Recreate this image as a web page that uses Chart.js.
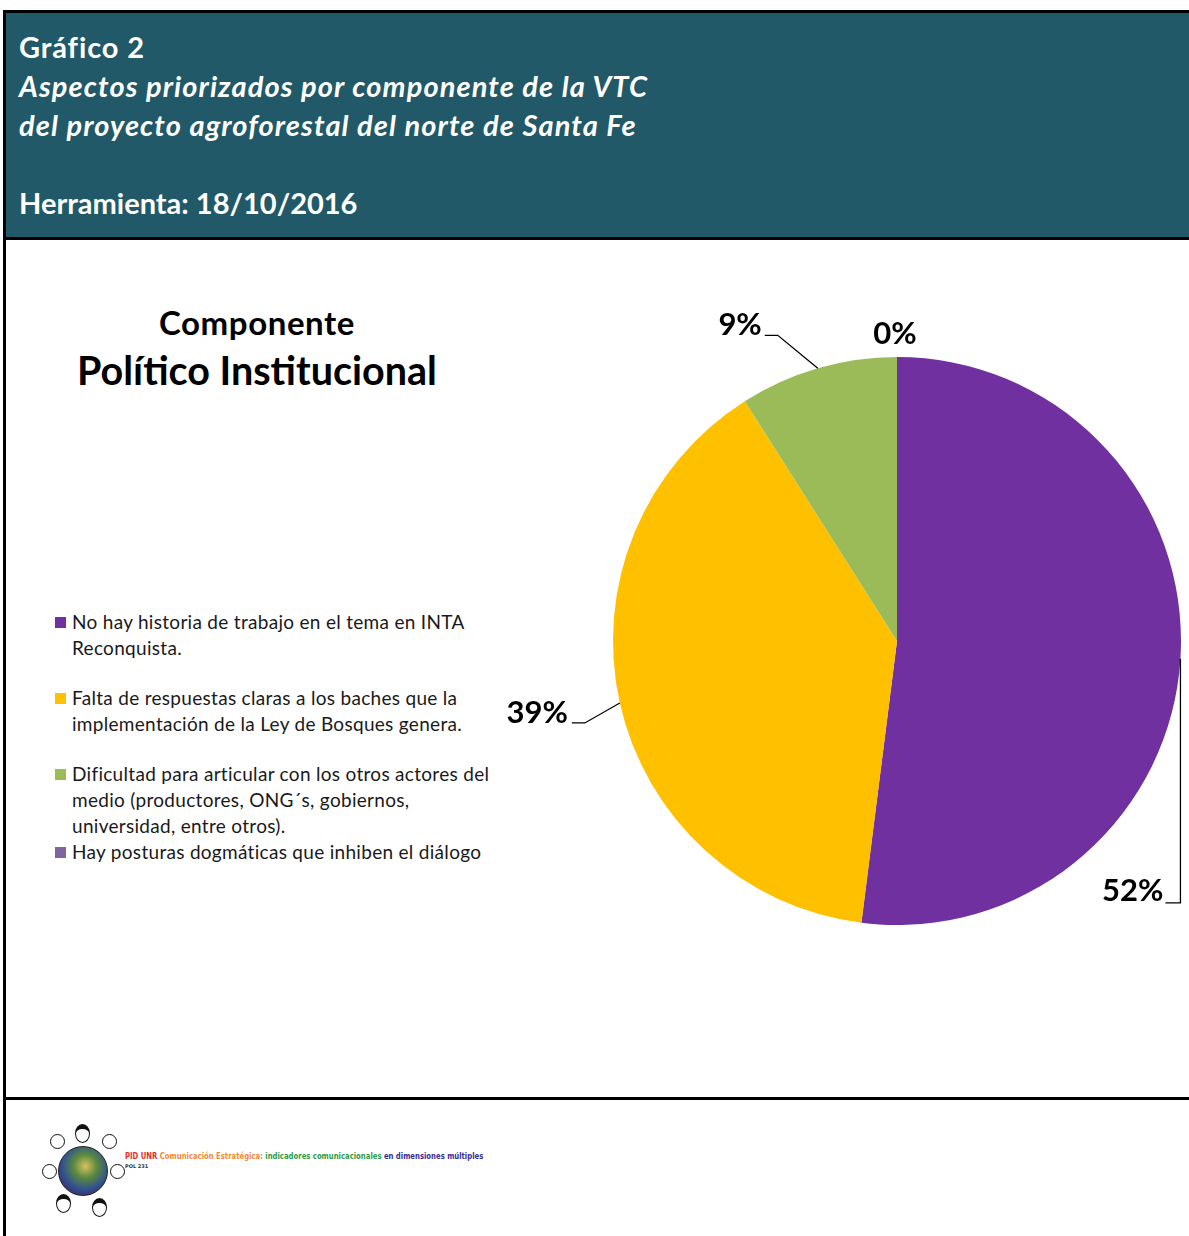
<!DOCTYPE html>
<html>
<head>
<meta charset="utf-8">
<script src="https://cdn.jsdelivr.net/npm/chart.js@4.4.0/dist/chart.umd.min.js"></script>
<style>
  body { margin: 0; background: #fff; width: 1189px; height: 1236px; overflow: hidden; position: relative; font-family: Lato, "Open Sans", sans-serif; }
  #header { position: absolute; left: 3px; top: 10px; width: 1195px; height: 230px; box-sizing: border-box; background: #225968; border: 3px solid #000; }
  .hl { position: absolute; left: 13px; color: #fff; font-weight: bold; font-size: 29px; letter-spacing: 0.9px; line-height: 32px; white-space: nowrap; }
  .it { font-style: italic; letter-spacing: 1.1px; }
  #leftLine { position: absolute; left: 3px; top: 240px; width: 3px; height: 996px; background: #000; }
  #footLine { position: absolute; left: 3px; top: 1097px; width: 1186px; height: 3px; background: #000; }
  #title1 { position: absolute; left: 57px; width: 400px; top: 302px; text-align: center; font-weight: bold; font-size: 33px; letter-spacing: 0.6px; color: #000; }
  #title2 { position: absolute; left: 37px; width: 440px; top: 346px; text-align: center; font-weight: bold; font-size: 39.5px; color: #000; }
  #legend { position: absolute; left: 55px; top: 609px; width: 445px; font-size: 19px; letter-spacing: 0.3px; color: #1a1a1a; }
  .li { position: relative; padding-left: 17px; line-height: 26px; }
  .sw { position: absolute; left: 0; top: 8px; width: 11px; height: 11px; }
  #chartBox { position: absolute; left: 500px; top: 260px; }
  #logo { position: absolute; left: 40px; top: 1120px; width: 100px; height: 100px; }
  .globe { position: absolute; left: 18px; top: 26px; width: 48px; height: 48px; border-radius: 50%; border: 1.5px solid #222;
    background: radial-gradient(circle at 55% 40%, #d8c060 0%, #5a8a40 30%, #305090 60%, #402060 85%); }
  .face { position: absolute; width: 13px; height: 13px; border-radius: 50%; border: 1.5px solid #111; background: #fff; }
  .hair { border-top: 5px solid #111; }
  #footText { position: absolute; left: 125px; top: 1151px; font-size: 8.5px; font-weight: bold; white-space: nowrap; transform-origin: 0 0; transform: scaleX(0.9); font-family: "DejaVu Sans Condensed", "Liberation Sans Narrow", sans-serif; }
  #pol { position: absolute; left: 125px; top: 1163px; font-size: 5px; font-weight: bold; color: #333; font-family: "DejaVu Sans", sans-serif; }
</style>
</head>
<body>
<div id="header">
  <div class="hl" style="top:18px">Gráfico 2</div>
  <div class="hl it" style="top:57px">Aspectos priorizados por componente de la VTC</div>
  <div class="hl it" style="top:96px">del proyecto agroforestal del norte de Santa Fe</div>
  <div class="hl" style="top:174px;letter-spacing:0">Herramienta: 18/10/2016</div>
</div>
<div id="leftLine"></div>
<div id="footLine"></div>

<div id="title1">Componente</div>
<div id="title2">Político Institucional</div>
<div id="legend"></div>

<div id="chartBox"><canvas id="pie" width="689" height="780"></canvas></div>

<div id="logo">
  <div class="globe"></div>
  <div class="face hair" style="left:35px;top:4px"></div>
  <div class="face" style="left:10px;top:14px"></div>
  <div class="face" style="left:62px;top:14px"></div>
  <div class="face" style="left:2px;top:44px"></div>
  <div class="face" style="left:70px;top:44px"></div>
  <div class="face hair" style="left:16px;top:74px"></div>
  <div class="face hair" style="left:52px;top:78px"></div>
</div>
<div id="footText"><span style="color:#e2302e">PID UNR</span> <span style="color:#f08a3a">Comunicación Estratégica:</span> <span style="color:#2f9a48">indicadores comunicacionales</span> <span style="color:#3a2e8c">en dimensiones múltiples</span></div>
<div id="pol">POL 231</div>

<script>
const categories = [
  'No hay historia de trabajo en el tema en INTA Reconquista.',
  'Falta de respuestas claras a los baches que la implementación de la Ley de Bosques genera.',
  'Dificultad para articular con los otros actores del medio (productores, ONG´s, gobiernos, universidad, entre otros).',
  'Hay posturas dogmáticas que inhiben el diálogo'
];
const values = [52, 39, 9, 0];
const sliceColors = ['#7030A0', '#FFC000', '#9BBB59', '#8064A2'];
const legendGaps = [24, 24, 0, 0];

// label placement relative to the slice's outer edge point (Excel style leader lines)
const labelPlacement = [
  { dx: -17, dy: 232, align: 'right', line: [[-15, 244], [0, 244]] },
  { dx: -52, dy: 10, align: 'right', line: [[-48, 20], [-35, 20]] },
  { dx: -56, dy: -43, align: 'right', line: [[-53, -33], [-40, -33]] },
  { dx: -2, dy: -23, align: 'center', line: null }
];

// html legend
const legendEl = document.getElementById('legend');
categories.forEach((c, i) => {
  const d = document.createElement('div');
  d.className = 'li';
  d.style.marginBottom = legendGaps[i] + 'px';
  d.innerHTML = '<span class="sw" style="background:' + sliceColors[i] + '"></span>' + c;
  legendEl.appendChild(d);
});

const pctLabels = {
  id: 'pctLabels',
  afterDatasetsDraw(chart) {
    const ctx = chart.ctx;
    const meta = chart.getDatasetMeta(0);
    const data = chart.data.datasets[0].data;
    const total = data.reduce((a, b) => a + b, 0);
    ctx.save();
    meta.data.forEach((arc, i) => {
      const p = arc.getProps(['x', 'y', 'startAngle', 'endAngle', 'outerRadius'], true);
      const mid = (p.startAngle + p.endAngle) / 2;
      const ex = p.x + Math.cos(mid) * p.outerRadius;
      const ey = p.y + Math.sin(mid) * p.outerRadius;
      const pl = labelPlacement[i];
      if (pl.line) {
        ctx.beginPath();
        ctx.strokeStyle = '#000';
        ctx.lineWidth = 1.3;
        ctx.moveTo(ex + pl.line[0][0], ey + pl.line[0][1]);
        ctx.lineTo(ex + pl.line[1][0], ey + pl.line[1][1]);
        ctx.lineTo(ex, ey);
        ctx.stroke();
      }
      ctx.fillStyle = '#000';
      ctx.font = 'bold 31px Lato, "Open Sans", sans-serif';
      ctx.textAlign = pl.align;
      ctx.textBaseline = 'middle';
      ctx.fillText(Math.round(data[i] / total * 100) + '%', ex + pl.dx, ey + pl.dy);
    });
    ctx.restore();
  }
};

new Chart(document.getElementById('pie'), {
  type: 'pie',
  data: {
    labels: categories,
    datasets: [{
      data: values,
      backgroundColor: sliceColors,
      borderWidth: 0
    }]
  },
  options: {
    responsive: false,
    animation: false,
    layout: { padding: { left: 113, right: 8, top: 97, bottom: 115 } },
    plugins: {
      legend: { display: false },
      tooltip: { enabled: false }
    }
  },
  plugins: [pctLabels]
});
</script>
</body>
</html>
